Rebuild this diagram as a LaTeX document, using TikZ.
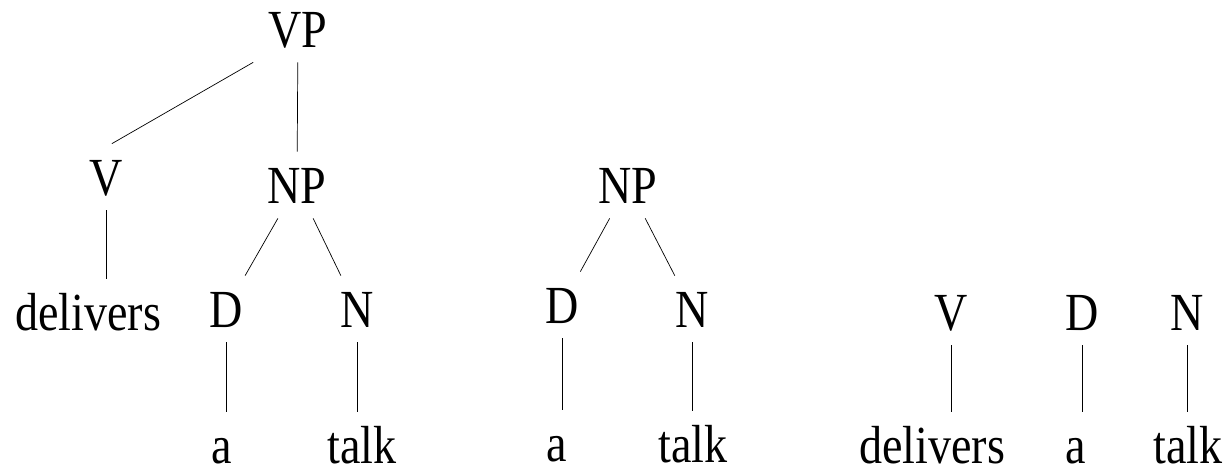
\documentclass[tikz,border=0pt]{standalone}
\usepackage{fontspec}
\setmainfont{Liberation Serif}[FakeStretch=0.86]
\begin{document}
\begin{tikzpicture}[every node/.style={anchor=base, inner sep=0.3cm, text height=0.72cm, text depth=0cm, font=\fontsize{30.5}{35}\selectfont}]
    \useasboundingbox (0,0) rectangle (24.5,-9.46);
    \node (0) at (5.96,-0.94) {VP};
    
    \node (1) at (2.12,-3.90) {V};
    \node (2) at (5.94,-4.06) {NP};
    \node (3) at (1.76,-6.60) {delivers};
    \node (4) at (4.52,-6.54) {D};
    \node (5) at (7.14,-6.54) {N};
    \node (6) at (4.44,-9.26) {a};
    \node (7) at (7.24,-9.26) {talk};
    
    \node (8) at (12.56,-4.06) {NP};
    \node (9) at (11.24,-6.46) {D};
    \node (10) at (13.84,-6.54) {N};
    \node (11) at (11.14,-9.22) {a};
    \node (12) at (13.86,-9.24) {talk};
    
    \node (13) at (19.02,-6.60) {V};
    \node (14) at (21.64,-6.60) {D};
    \node (15) at (23.74,-6.60) {N};
    \node (16) at (18.64,-9.26) {delivers};
    \node (17) at (21.52,-9.26) {a};
    \node (18) at (23.76,-9.26) {talk};
    
    \draw (0.south west) -- (1.80);
    \draw (0) -- (2);
    \draw (1) -- (1 |- 3.north);
    \draw (2) -- (4);
    \draw (2) -- (5);
    \draw (4) -- (4 |- 6.north);
    \draw (5) -- (5 |- 7.north);
    \draw (8) -- (9);
    \draw (8) -- (10);
    \draw (9) -- (9 |- 11.north);
    \draw (10) -- (10 |- 12.north);
    \draw (13) -- (13 |- 16.north);
    \draw (14) -- (14 |- 17.north);
    \draw (15) -- (15 |- 18.north);
    
    
\end{tikzpicture}
\end{document}
